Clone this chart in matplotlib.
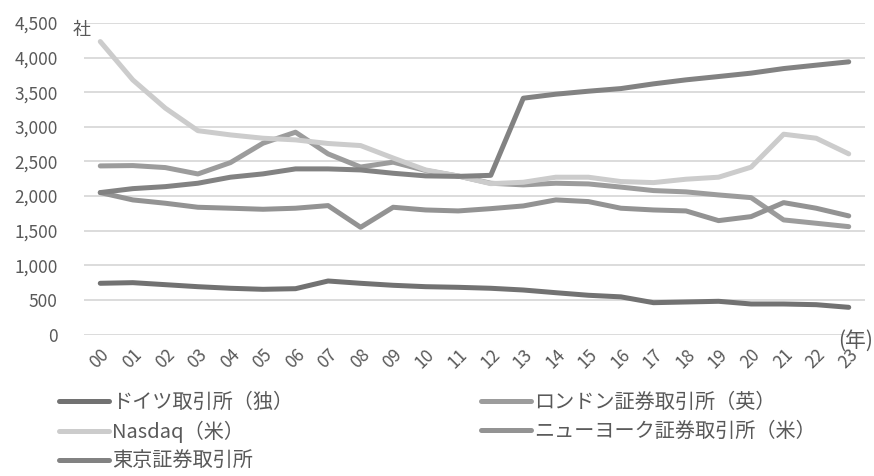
import matplotlib
matplotlib.use("Agg")
import matplotlib.pyplot as plt

plt.rcParams['font.family'] = ['Noto Sans CJK JP', 'DejaVu Sans']

# 年（2000〜2023）
years = ["00", "01", "02", "03", "04", "05", "06", "07", "08", "09", "10", "11",
         "12", "13", "14", "15", "16", "17", "18", "19", "20", "21", "22", "23"]

# 上場企業数（社）
germany = [741, 750, 721, 692, 669, 654, 663, 774, 741, 712, 692, 683,
           669, 644, 605, 568, 545, 461, 471, 481, 442, 442, 432, 394]
london = [2436, 2441, 2412, 2320, 2484, 2764, 2923, 2610, 2420, 2490, 2370, 2290,
          2186, 2162, 2186, 2176, 2130, 2080, 2061, 2017, 1978, 1656, 1608, 1559]
nasdaq = [4232, 3678, 3270, 2945, 2884, 2836, 2812, 2760, 2730, 2550, 2378, 2290,
          2180, 2200, 2273, 2273, 2210, 2195, 2244, 2273, 2418, 2894, 2836, 2610]
nyse = [2051, 1945, 1897, 1839, 1825, 1810, 1825, 1863, 1550, 1839, 1800, 1786,
        1819, 1858, 1945, 1921, 1825, 1800, 1786, 1646, 1704, 1906, 1825, 1714]
tokyo = [2051, 2108, 2137, 2186, 2273, 2321, 2393, 2393, 2378, 2330, 2292, 2285,
         2300, 3414, 3472, 3515, 3553, 3621, 3679, 3727, 3776, 3842, 3891, 3939]

series = [
    ("ドイツ取引所（独）", germany, "#727272"),
    ("ロンドン証券取引所（英）", london, "#9c9c9c"),
    ("Nasdaq（米）", nasdaq, "#cccccc"),
    ("ニューヨーク証券取引所（米）", nyse, "#939393"),
    ("東京証券取引所", tokyo, "#828282"),
]

fig = plt.figure(figsize=(8.74, 4.76), dpi=100)
ax = fig.add_axes([84 / 874, 1 - 334.6 / 476, 781 / 874, (334.6 - 23) / 476])

x = list(range(len(years)))
lines = {}
for name, vals, col in series:
    ln, = ax.plot(x, vals, color=col, lw=3.6, solid_capstyle='round',
                  solid_joinstyle='round', label=name)
    lines[name] = ln

ax.set_xlim(-0.5, len(years) - 0.5)
ax.set_ylim(0, 4500)
ax.set_yticks(range(0, 4501, 500))
ax.set_yticklabels([f"{v:,}" for v in range(0, 4501, 500)])
ax.set_xticks(x)
ax.set_xticklabels(years, rotation=45, ha='right', rotation_mode='anchor')

ax.grid(axis='y', color='#d9d9d9', lw=1.3)
ax.set_axisbelow(True)
for s in ax.spines.values():
    s.set_visible(False)
ax.tick_params(axis='both', length=0, colors='#595959', labelsize=12.5)
ax.tick_params(axis='y', pad=19)
ax.tick_params(axis='x', pad=8)

fig.text(82 / 874, 1 - 30 / 476, "社", ha='center', va='center',
         fontsize=13, color='#595959')
fig.text(873 / 874, 1 - 341 / 476, "(年)", ha='right', va='center',
         fontsize=15, color='#595959')

# 凡例（行ごとに左右へ並べる）
order = ["ドイツ取引所（独）", "Nasdaq（米）", "東京証券取引所",
         "ロンドン証券取引所（英）", "ニューヨーク証券取引所（米）"]
fig.legend([lines[n] for n in order], order, ncol=2, frameon=False,
           loc='upper left', bbox_to_anchor=(59 / 874, 1 - 392 / 476),
           borderpad=0, borderaxespad=0, fontsize=14.5, handlelength=2.5,
           handletextpad=0.15, labelspacing=0.4, columnspacing=9.3,
           labelcolor='#595959')

fig.savefig("out.png", dpi=100)
